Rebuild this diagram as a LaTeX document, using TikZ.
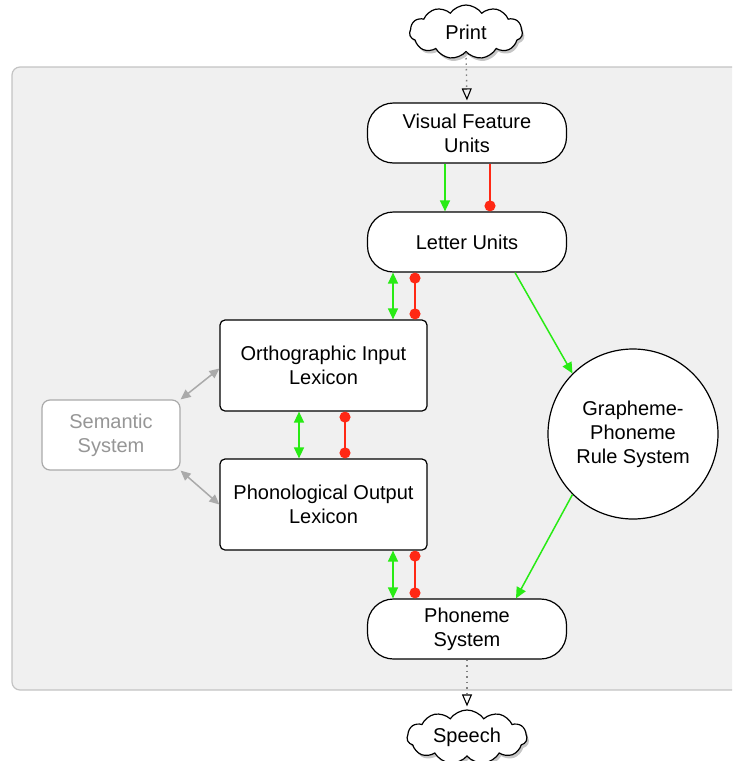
\documentclass[tikz,border=0pt]{standalone}
\usepackage{fontspec}
\setmainfont{Liberation Sans}
\usetikzlibrary{shapes.symbols,shapes.misc,arrows.meta,shadows}
\definecolor{gr}{RGB}{40,235,20}
\definecolor{rd}{RGB}{255,40,20}
\definecolor{panel}{RGB}{240,240,240}
\definecolor{panelb}{RGB}{195,195,195}
\definecolor{semg}{RGB}{170,170,170}
\definecolor{semt}{RGB}{150,150,150}
\begin{document}
\begin{tikzpicture}[x=1pt,y=-1pt, font=\fontsize{20}{24}\selectfont,
 pill/.style={draw, line width=1.2pt, fill=white, rounded corners=26pt, minimum width=199pt, minimum height=60pt, align=center, inner sep=0pt},
 box/.style={draw, line width=1.2pt, fill=white, rounded corners=5pt, minimum width=207pt, minimum height=91pt, align=center, inner sep=0pt},
 sembox/.style={draw=semg, text=semt, line width=1.2pt, fill=white, rounded corners=8pt, minimum width=138pt, minimum height=70pt, align=center, inner sep=0pt},
 circ/.style={draw, line width=1.2pt, fill=white, circle, minimum size=170pt, align=center, inner sep=0pt},
 cloudnode/.style={cloud, cloud puffs=11, cloud puff arc=110, cloud ignores aspect, draw, line width=1.2pt, fill=white, minimum height=54pt, inner sep=0pt, drop shadow={shadow xshift=2pt, shadow yshift=-3pt, opacity=.45}},
 garrow/.style={draw=gr, line width=1.5pt, -{Triangle[length=11pt,width=10pt]}},
 gdarrow/.style={draw=gr, line width=1.5pt, {Triangle[length=11pt,width=10pt]}-{Triangle[length=11pt,width=10pt]}},
 rline/.style={draw=rd, line width=1.5pt, -{Circle[length=11pt]}},
 rdline/.style={draw=rd, line width=1.5pt, {Circle[length=11pt]}-{Circle[length=11pt]}},
 semarrow/.style={draw=semg, line width=1.5pt, {Triangle[length=10pt,width=9pt]}-{Triangle[length=10pt,width=9pt]}},
 dotarrow/.style={draw=gray, line width=1.4pt, dash pattern=on 1.5pt off 4pt, -{Triangle[open,length=12pt,width=10pt,color=black,line width=1.1pt]}}
]
\useasboundingbox (0,0) rectangle (732,761);
\clip (0,0) rectangle (732,761);
\fill[panel, draw=panelb, line width=1.2pt, rounded corners=8pt] (12,67) rectangle (770,690);

\node[cloudnode, minimum width=113pt] (print) at (466,32) {Print};
\node[cloudnode, minimum width=120pt] (speech) at (467,737) {Speech};

\node[pill] (vfu) at (467,133) {Visual Feature\\Units};
\node[pill] (lu) at (467,242) {Letter Units};
\node[box] (ortho) at (323.5,365.5) {Orthographic Input\\Lexicon};
\node[box] (phono) at (323.5,504.5) {Phonological Output\\Lexicon};
\node[sembox] (sem) at (111,435) {Semantic\\System};
\node[circ] (gpc) at (633,434) {Grapheme-\\Phoneme\\Rule System};
\node[pill] (pho) at (467,629) {Phoneme\\System};

\draw[dotarrow, shorten >=2pt] (print.south) -- (vfu.north);
\draw[dotarrow, shorten >=3pt] (pho.south) -- (speech.north);

\draw[garrow] ([xshift=-22pt]vfu.south) -- ([xshift=-22pt]lu.north);
\draw[rline] ([xshift=23pt]vfu.south) -- ([xshift=23pt]lu.north);

\draw[gdarrow] ([xshift=-74pt]lu.south) -- ([xshift=69.5pt]ortho.north);
\draw[rdline] ([xshift=-52pt]lu.south) -- ([xshift=91.5pt]ortho.north);

\draw[gdarrow] ([xshift=-24.5pt]ortho.south) -- ([xshift=-24.5pt]phono.north);
\draw[rdline] ([xshift=21.5pt]ortho.south) -- ([xshift=21.5pt]phono.north);

\draw[gdarrow] ([xshift=69.5pt]phono.south) -- ([xshift=-74pt]pho.north);
\draw[rdline] ([xshift=91.5pt]phono.south) -- ([xshift=-52pt]pho.north);

\draw[garrow] ([xshift=48pt]lu.south) -- (gpc.135);
\draw[garrow] (gpc.225) -- ([xshift=49pt]pho.north);

\draw[semarrow] (sem.north east) -- ([yshift=-3pt]ortho.west);
\draw[semarrow] (sem.south east) -- (phono.west);
\end{tikzpicture}
\end{document}
